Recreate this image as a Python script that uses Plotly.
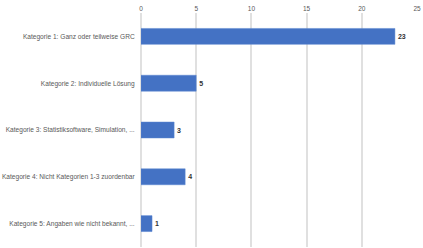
import plotly.graph_objects as go

categories = [
    "Kategorie 1: Ganz oder teilweise GRC",
    "Kategorie 2: Individuelle Lösung",
    "Kategorie 3: Statistiksoftware, Simulation, ...",
    "Kategorie 4: Nicht Kategorien 1-3 zuordenbar",
    "Kategorie 5: Angaben wie nicht bekannt, ...",
]
values = [23, 5, 3, 4, 1]
x_ticks = [0, 5, 10, 15, 20, 25]

fig = go.Figure(go.Bar(
    x=values, y=categories, orientation="h",
    marker=dict(color="#4472C4", line=dict(color="#5B86D0", width=0.5)),
    text=[str(v) for v in values], textposition="outside",
    textfont=dict(family="Liberation Sans, Arial", size=7, color="#333333"),
    texttemplate="<b>%{text}</b>", cliponaxis=False,
))
fig.update_layout(
    width=423, height=248,
    margin=dict(l=141, r=6, t=13, b=1),
    paper_bgcolor="white", plot_bgcolor="white",
    bargap=0.66, showlegend=False,
    font=dict(family="Liberation Sans, Arial", size=6.5, color="#595959"),
)
fig.update_xaxes(
    range=[0, 25], side="top", tickvals=x_ticks,
    showgrid=True, gridcolor="#e0e0e0", gridwidth=1.5,
    zeroline=True, zerolinecolor="#e0e0e0", zerolinewidth=1.5,
    showline=False, ticks="", tickfont=dict(size=6.5, color="#595959"),
)
fig.update_yaxes(
    autorange="reversed", showgrid=False, ticks="outside", ticklen=4,
    tickcolor="rgba(0,0,0,0)",
    tickfont=dict(size=6.6, color="#595959"), automargin=False,
)
fig.write_html("out.html")
